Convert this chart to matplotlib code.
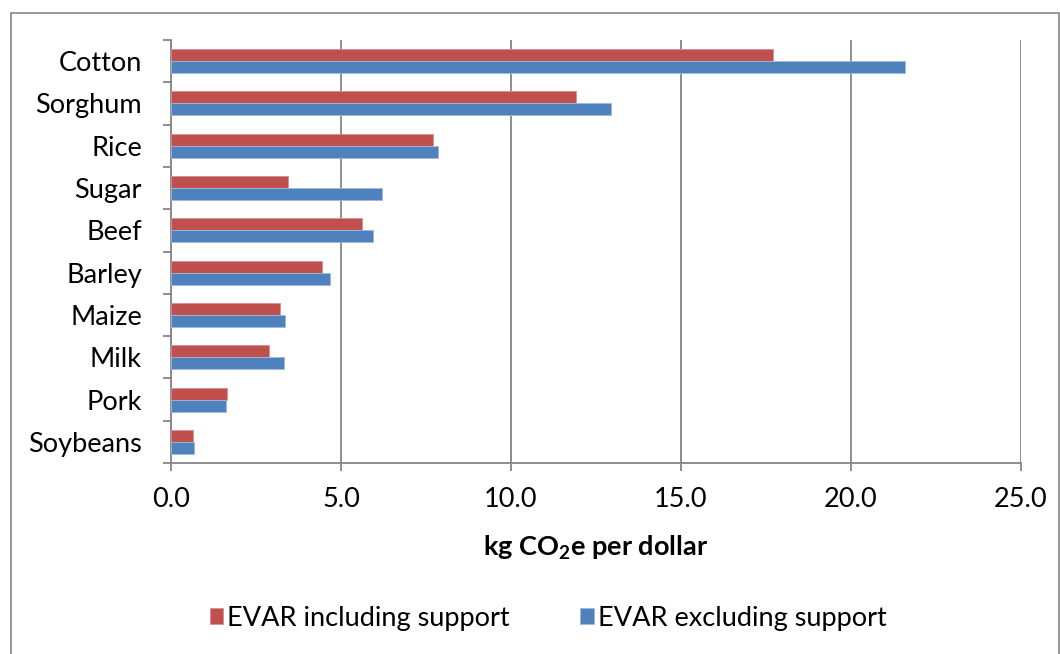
import numpy as np
import matplotlib
matplotlib.use('Agg')
import matplotlib.pyplot as plt
from matplotlib.patches import Rectangle
from matplotlib.ticker import FixedLocator, FormatStrFormatter

# ================================
# Data (kg CO2e per dollar)
# ================================
crops = ['Cotton', 'Sorghum', 'Rice', 'Sugar', 'Beef',
         'Barley', 'Maize', 'Milk', 'Pork', 'Soybeans']
evar_incl = [17.72, 11.93, 7.70, 3.43, 5.63, 4.44, 3.21, 2.89, 1.64, 0.66]
evar_excl = [21.60, 12.94, 7.86, 6.20, 5.94, 4.67, 3.35, 3.33, 1.63, 0.69]

RED = '#C0504D'
BLUE = '#4F81BD'
GRID = '#868686'
FONT = 'Lato'
FS = 19.5

plt.rcParams['font.family'] = [FONT, 'DejaVu Sans']
plt.rcParams['mathtext.fontset'] = 'custom'
plt.rcParams['mathtext.rm'] = FONT
plt.rcParams['mathtext.bf'] = FONT + ':bold'

fig = plt.figure(figsize=(10.6, 6.54), dpi=100)
ax = fig.add_axes([0.1613, 0.2920, 0.8016, 0.6468])

# Cotton on top
n = len(crops)
ypos = np.arange(n)[::-1]
h = 0.284

ax.barh(ypos + h / 2, evar_incl, height=h, color=RED,
        edgecolor='#D8908E', linewidth=0.6, label='EVAR including support', zorder=3)
ax.barh(ypos - h / 2, evar_excl, height=h, color=BLUE,
        edgecolor='#9DB9DE', linewidth=0.6, label='EVAR excluding support', zorder=3)

ax.set_xlim(0, 25)
ax.set_ylim(-0.5, n - 0.5)

# x axis
ax.set_xticks(np.arange(0, 26, 5))
ax.xaxis.set_major_formatter(FormatStrFormatter('%.1f'))
ax.tick_params(axis='x', direction='out', length=6, width=1.3, color=GRID,
               labelsize=FS, pad=11)
ax.grid(axis='x', color=GRID, linewidth=1.3, zorder=0)

# y axis: labels at centers, tick marks at boundaries
ax.set_yticks(ypos)
ax.set_yticklabels(crops)
ax.yaxis.set_minor_locator(FixedLocator(np.arange(-0.5, n, 1.0)))
ax.tick_params(axis='y', which='major', length=0, labelsize=FS, pad=21)
ax.tick_params(axis='y', which='minor', direction='out', length=6, width=1.3, color=GRID)

for side in ['top', 'right']:
    ax.spines[side].set_visible(False)
for side in ['left', 'bottom']:
    ax.spines[side].set_color(GRID)
    ax.spines[side].set_linewidth(1.3)

ax.set_xlabel(r'kg CO$_{\mathbf{2}}$e per dollar', fontsize=19.5, fontweight='bold')
ax.xaxis.set_label_coords(0.5, -0.201)
ax.xaxis.label.set_verticalalignment('center')

leg = fig.legend(loc='center', bbox_to_anchor=(0.517, 0.055), ncol=2, frameon=False,
                 fontsize=FS, handlelength=0.5, handleheight=0.55,
                 handletextpad=0.15, columnspacing=2.6)

# outer chart border
fig.patches.append(Rectangle((10.5 / 1060, -0.05), 1048 / 1060, 1.05 - 12.5 / 654,
                             transform=fig.transFigure, fill=False,
                             edgecolor=GRID, linewidth=1.2))

fig.savefig('out.png', dpi=100)
